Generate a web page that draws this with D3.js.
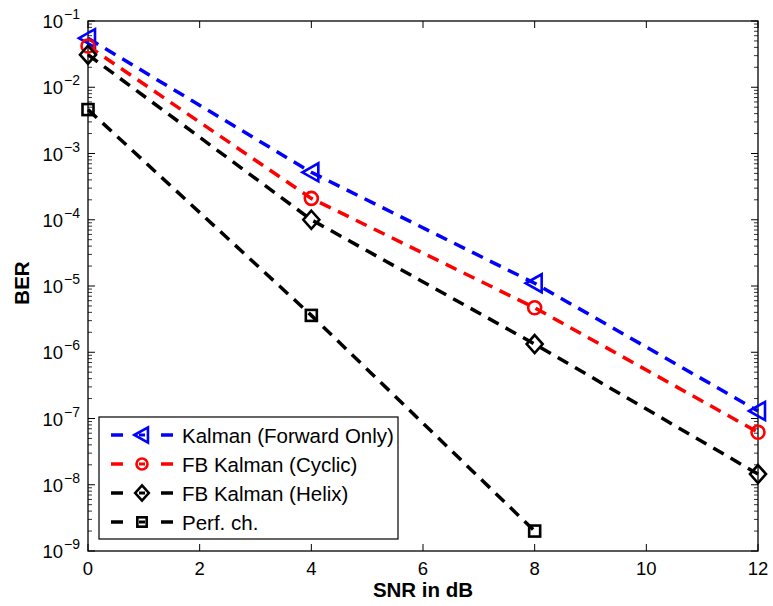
<!DOCTYPE html>
<html><head><meta charset="utf-8">
<script src="https://cdn.jsdelivr.net/npm/d3@7"></script>
<style>body{margin:0;background:#fff}svg{display:block}text{font-family:"Liberation Sans",Arial,sans-serif}</style>
</head><body><svg id="c" width="773" height="606"></svg>
<script>
const snr = [0, 4, 8, 12];
const kalmanFwd = [0.055, 5.2e-4, 1.1e-5, 1.3e-7];
const fbCyclic = [0.042, 2.1e-4, 4.7e-6, 6.2e-8];
const fbHelix = [0.031, 1.0e-4, 1.33e-6, 1.45e-8];
const perfCh = [4.6e-3, 3.6e-6, 2.0e-9];
const xTicks = [0, 2, 4, 6, 8, 10, 12];
const yExps = [-1, -2, -3, -4, -5, -6, -7, -8, -9];
const seriesNames = ["Kalman (Forward Only)", "FB Kalman (Cyclic)", "FB Kalman (Helix)", "Perf. ch."];

const series = [
  {name: seriesNames[0], vals: kalmanFwd, color: "#0000ff", marker: "tri"},
  {name: seriesNames[1], vals: fbCyclic, color: "#ff0000", marker: "circ"},
  {name: seriesNames[2], vals: fbHelix, color: "#000000", marker: "dia"},
  {name: seriesNames[3], vals: perfCh, color: "#000000", marker: "sq"}
];

const L = 88, R = 758, T = 21, B = 551;
const svg = d3.select("#c");
const x = d3.scaleLinear().domain([0, 12]).range([L, R]);
const y = d3.scaleLog().domain([1e-9, 1e-1]).range([B, T]);

svg.append("rect").attr("x", L).attr("y", T).attr("width", R - L).attr("height", B - T)
  .attr("fill", "none").attr("stroke", "#000").attr("stroke-width", 1.3);

const g = svg.append("g");
xTicks.forEach(t => {
  const px = x(t);
  g.append("line").attr("x1", px).attr("x2", px).attr("y1", B).attr("y2", B - 7).attr("stroke", "#000");
  g.append("line").attr("x1", px).attr("x2", px).attr("y1", T).attr("y2", T + 7).attr("stroke", "#000");
  g.append("text").attr("x", px).attr("y", B + 24).attr("text-anchor", "middle")
    .attr("font-size", 18.5).text(t);
});
yExps.forEach(e => {
  const py = y(Math.pow(10, e));
  g.append("line").attr("x1", L).attr("x2", L + 7).attr("y1", py).attr("y2", py).attr("stroke", "#000");
  g.append("line").attr("x1", R).attr("x2", R - 7).attr("y1", py).attr("y2", py).attr("stroke", "#000");
  g.append("text").attr("x", L - 25).attr("y", py + 7).attr("text-anchor", "end").attr("font-size", 18.5).text("10");
  g.append("text").attr("x", L - 24).attr("y", py - 2).attr("font-size", 14).text("\u2212" + Math.abs(e));
  if (e > -9) {
    for (let m = 2; m <= 9; m++) {
      const pm = y(m * Math.pow(10, e - 1));
      g.append("line").attr("x1", L).attr("x2", L + 4).attr("y1", pm).attr("y2", pm).attr("stroke", "#000").attr("stroke-width", 0.8);
      g.append("line").attr("x1", R).attr("x2", R - 4).attr("y1", pm).attr("y2", pm).attr("stroke", "#000").attr("stroke-width", 0.8);
    }
  }
});

svg.append("text").attr("x", (L + R) / 2).attr("y", 597).attr("text-anchor", "middle")
  .attr("font-size", 20.5).attr("font-weight", "bold").text("SNR in dB");
svg.append("text").attr("transform", `translate(29,283) rotate(-90)`).attr("text-anchor", "middle")
  .attr("font-size", 20.5).attr("font-weight", "bold").text("BER");

function drawMarker(sel, type, cx, cy, color, k) {
  k = k || 1;
  const sw = 2.6;
  if (type === "tri") {
    sel.append("path").attr("d", `M${cx - 9 * k},${cy} L${cx + 7 * k},${cy - 9 * k} L${cx + 7 * k},${cy + 9 * k} Z`)
      .attr("fill", "none").attr("stroke", color).attr("stroke-width", sw).attr("stroke-linejoin", "miter");
  } else if (type === "circ") {
    sel.append("circle").attr("cx", cx).attr("cy", cy).attr("r", 6.5 * k)
      .attr("fill", "none").attr("stroke", color).attr("stroke-width", sw);
  } else if (type === "dia") {
    sel.append("path").attr("d", `M${cx},${cy - 9 * k} L${cx + 8 * k},${cy} L${cx},${cy + 9 * k} L${cx - 8 * k},${cy} Z`)
      .attr("fill", "none").attr("stroke", color).attr("stroke-width", sw);
  } else if (type === "sq") {
    sel.append("rect").attr("x", cx - 5.5 * k).attr("y", cy - 5.5 * k).attr("width", 11 * k).attr("height", 11 * k)
      .attr("fill", "none").attr("stroke", color).attr("stroke-width", sw);
  }
}

const line = d3.line().x((d, i) => x(snr[i])).y(d => y(d));
const plot = svg.append("g");
series.forEach(s => {
  plot.append("path").attr("d", line(s.vals)).attr("fill", "none").attr("stroke", s.color)
    .attr("stroke-width", 3.5).attr("stroke-dasharray", "12,8");
});
series.forEach(s => {
  s.vals.forEach((v, i) => drawMarker(plot, s.marker, x(snr[i]), y(v), s.color));
});

const lg = svg.append("g");
lg.append("rect").attr("x", 99).attr("y", 417).attr("width", 299).attr("height", 122)
  .attr("fill", "#fff").attr("stroke", "#000").attr("stroke-width", 1.2);
series.forEach((s, i) => {
  const cy = 435 + i * 29;
  lg.append("line").attr("x1", 111).attr("x2", 123).attr("y1", cy).attr("y2", cy).attr("stroke", s.color).attr("stroke-width", 3.5);
  lg.append("line").attr("x1", 161).attr("x2", 173).attr("y1", cy).attr("y2", cy).attr("stroke", s.color).attr("stroke-width", 3.5);
  drawMarker(lg, s.marker, 142, cy, s.color, 0.85);
  lg.append("line").attr("x1", 139).attr("x2", 145).attr("y1", cy).attr("y2", cy).attr("stroke", s.color).attr("stroke-width", 3);
  lg.append("text").attr("x", 182).attr("y", cy + 8).attr("font-size", 20.5).text(s.name);
});
</script></body></html>
